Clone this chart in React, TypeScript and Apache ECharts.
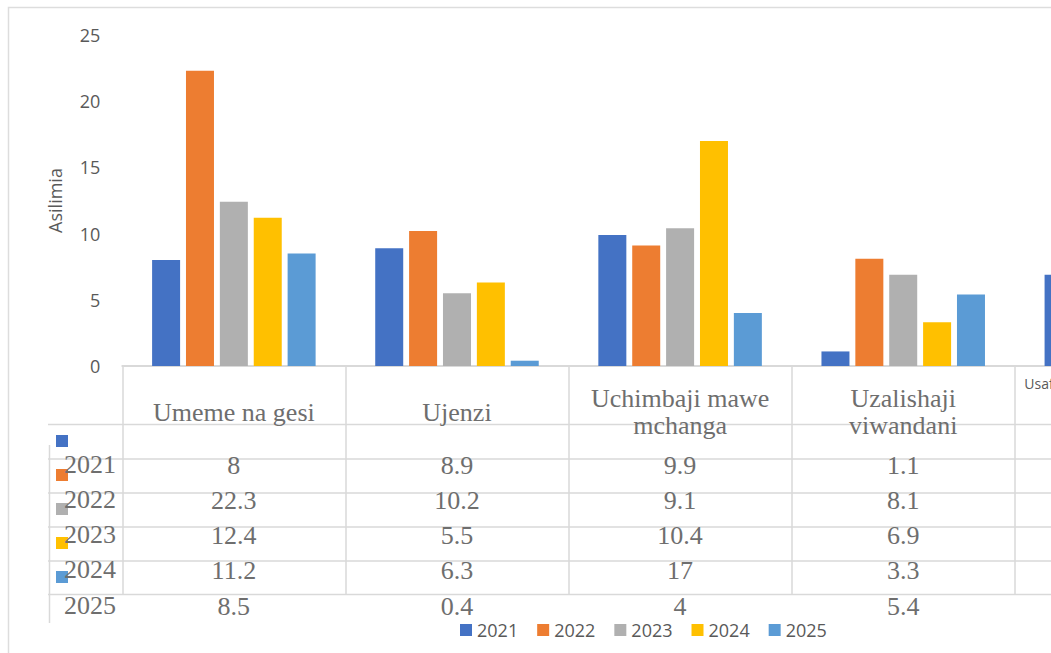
import React, { useEffect, useRef } from 'react';
import * as echarts from 'echarts';

// ---- data ----
const categories = [
  'Umeme na gesi',
  'Ujenzi',
  'Uchimbaji mawe\nmchanga',
  'Uzalishaji\nviwandani',
  'Usafirishaji na uhifadhi mizigo',
];
const seriesNames = ['2021', '2022', '2023', '2024', '2025'];
const v2021 = [8, 8.9, 9.9, 1.1, 6.9];
const v2022 = [22.3, 10.2, 9.1, 8.1, null];
const v2023 = [12.4, 5.5, 10.4, 6.9, null];
const v2024 = [11.2, 6.3, 17, 3.3, null];
const v2025 = [8.5, 0.4, 4, 5.4, null];
const yTicks = { min: 0, max: 25, interval: 5 };

const values = [v2021, v2022, v2023, v2024, v2025];
const colors = ['#4472C4', '#ED7D31', '#B0B0B0', '#FFC000', '#5B9BD5'];

const SERIF = '"Liberation Serif", "Times New Roman", serif';
const SANS = '"Open Sans", "Noto Sans", sans-serif';
const TABLE_COLOR = '#6E6E6E';
const LABEL_COLOR = '#595959';
const LINE = '#D9D9D9';

// canvas wider than the visible window: the reference is cropped on the right
const CHART_W = 1260;
const CHART_H = 653;

// table layout (decoration)
const AXIS_Y = 366;
const rowCenters = [465, 500, 535, 570, 606];
const rowLines = [424.5, 459, 493, 527, 561, 594.5];
const keyTops = [435, 469, 503, 537, 571];

export default function App() {
  const ref = useRef<HTMLDivElement>(null);
  useEffect(() => {
    if (!ref.current) return;
    const chart = echarts.init(ref.current, undefined, { renderer: 'svg' });

    const rowAxes = values.map((vals, i) => ({
      type: 'category',
      data: categories,
      gridIndex: 0,
      position: 'bottom',
      offset: rowCenters[i] - AXIS_Y,
      axisLine: { show: false },
      axisTick: { show: false },
      splitLine: { show: false },
      axisLabel: {
        interval: 0,
        margin: 0,
        verticalAlign: 'middle',
        color: TABLE_COLOR,
        fontFamily: SERIF,
        fontSize: 26,
        formatter: (_v: string, idx: number) => {
          const x = vals[idx];
          return x === null || x === undefined ? '' : String(x);
        },
      },
    }));

    const graphics: any[] = [];
    // outer chart border
    graphics.push({
      type: 'rect',
      shape: { x: 8.5, y: 7.5, width: 1400, height: 700 },
      style: { fill: 'none', stroke: '#DDDDDD', lineWidth: 1.5 },
      silent: true,
      z: -10,
    });
    rowLines.forEach((y) => {
      graphics.push({
        type: 'line',
        shape: { x1: 48, y1: y, x2: CHART_W, y2: y },
        style: { stroke: LINE, lineWidth: 1.5 },
        silent: true,
        z: -5,
      });
    });
    graphics.push({
      type: 'line',
      shape: { x1: 49.5, y1: 445, x2: 49.5, y2: 623 },
      style: { stroke: LINE, lineWidth: 1.5 },
      silent: true,
      z: -5,
    });
    seriesNames.forEach((name, i) => {
      graphics.push({
        type: 'rect',
        shape: { x: 56, y: keyTops[i], width: 12, height: 12 },
        style: { fill: colors[i] },
        silent: true,
        z: 5,
      });
      graphics.push({
        type: 'text',
        x: 90,
        y: rowCenters[i] - 1,
        style: {
          text: name,
          fill: TABLE_COLOR,
          font: `26px ${SERIF}`,
          align: 'center',
          verticalAlign: 'middle',
        },
        silent: true,
        z: 6,
      });
    });

    const option: any = {
      animation: false,
      backgroundColor: '#ffffff',
      color: colors,
      grid: { left: 122.3, right: CHART_W - 1237.9, top: 35, bottom: CHART_H - AXIS_Y, containLabel: false },
      legend: {
        data: seriesNames,
        left: 455,
        top: 616,
        itemWidth: 12,
        itemHeight: 12,
        itemGap: 19,
        icon: 'rect',
        textStyle: { color: LABEL_COLOR, fontSize: 18, fontFamily: SANS },
      },
      xAxis: [
        {
          type: 'category',
          data: categories,
          gridIndex: 0,
          position: 'bottom',
          offset: 0,
          boundaryGap: true,
          axisLine: { show: true, lineStyle: { color: LINE, width: 2 } },
          axisTick: {
            show: true,
            alignWithLabel: false,
            length: 594.5 - AXIS_Y,
            lineStyle: { color: LINE, width: 1.5 },
          },
          splitLine: { show: false },
          axisLabel: {
            interval: 0,
            margin: 46,
            verticalAlign: 'middle',
            color: TABLE_COLOR,
            fontFamily: SERIF,
            fontSize: 26,
            lineHeight: 28,
            formatter: (val: string, idx: number) => {
              if (idx === 4) return `{s|${val}}`;
              const lines = val.split('\n');
              const st = idx >= 2 ? 'b' : 'a';
              return lines.map((l) => `{${st}|${l}}`).join('\n');
            },
            rich: {
              a: { fontFamily: SERIF, fontSize: 26, lineHeight: 28, color: TABLE_COLOR },
              b: { fontFamily: SERIF, fontSize: 26, lineHeight: 27, color: TABLE_COLOR },
              s: {
                fontFamily: SANS,
                fontSize: 14,
                lineHeight: 16,
                color: LABEL_COLOR,
                width: 204,
                align: 'left',
                padding: [0, 0, 58, 0],
              },
            },
          },
        },
        ...rowAxes,
      ],
      yAxis: {
        type: 'value',
        min: yTicks.min,
        max: yTicks.max,
        interval: yTicks.interval,
        name: 'Asilimia',
        nameLocation: 'middle',
        nameGap: 58,
        nameTextStyle: { color: LABEL_COLOR, fontSize: 18, fontFamily: SANS },
        axisLine: { show: false },
        axisTick: { show: false },
        splitLine: { show: false },
        axisLabel: { color: LABEL_COLOR, fontSize: 18, fontFamily: SANS, margin: 22 },
      },
      series: seriesNames.map((name, i) => ({
        name,
        type: 'bar',
        xAxisIndex: 0,
        data: values[i],
        barWidth: 28,
        barGap: '21%',
        itemStyle: { color: colors[i] },
      })),
      graphic: graphics,
    };

    chart.setOption(option);
    return () => chart.dispose();
  }, []);

  return (
    <div
      style={{
        position: 'fixed',
        left: 0,
        top: 0,
        width: 1051,
        height: 653,
        overflow: 'hidden',
        background: '#fff',
      }}
    >
      <div ref={ref} style={{ width: CHART_W, height: CHART_H }} />
    </div>
  );
}
